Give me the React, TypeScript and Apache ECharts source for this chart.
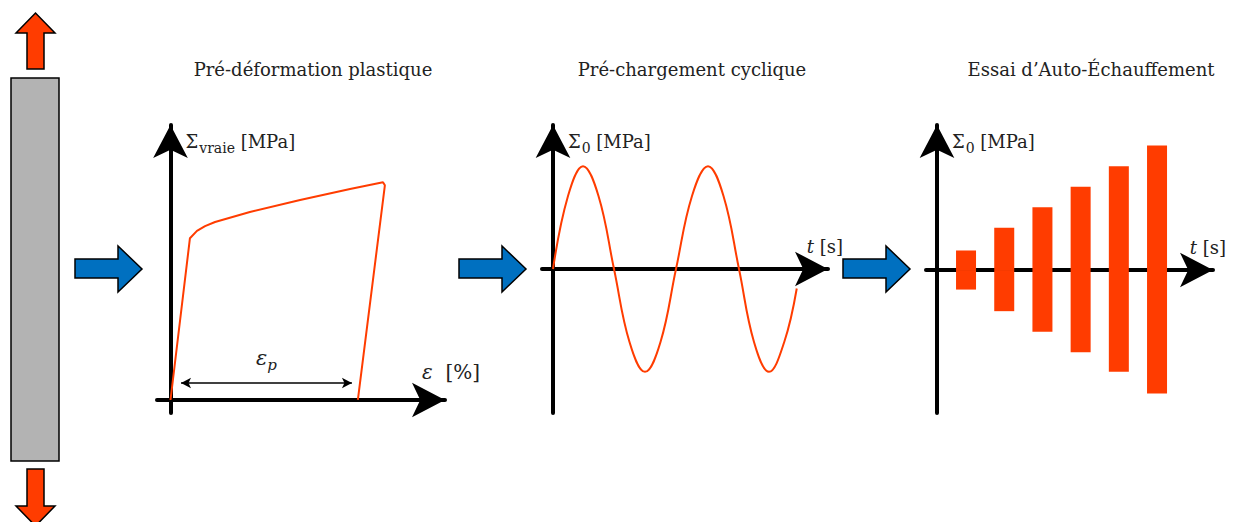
import React, { useEffect, useRef } from "react";
import * as echarts from "echarts";

// Panel 1: true stress-strain curve (strain %, stress MPa)
const CURVE_STRAIN = [0, 0.72, 0.98, 1.28, 1.65, 2.94, 4.8, 6.65, 7.87, 7.94, 6.94];
const CURVE_STRESS = [0, 309, 323, 332, 340, 359, 382, 403, 416, 410, 0];
// plastic pre-strain arrow (start / end strain, height)
const EP_FROM = 0.39;
const EP_TO = 6.72;
const EP_LEVEL = 32.5;

// Panel 2: cyclic pre-loading (time s, stress MPa)
const SINE_T = [0, 0.12, 0.24, 0.364, 0.488, 0.612, 0.736, 0.86, 0.984, 1.112, 1.24, 1.364, 1.488, 1.608, 1.728, 1.85, 1.95];
const SINE_S = [0, 71, 100, 71, 0, -71, -100, -71, 0, 71, 100, 71, 0, -71, -100, -71, -19];

// Panel 3: self-heating test blocks (time s, amplitude MPa)
const BLOCK_T = [0.76, 1.76, 2.76, 3.76, 4.76, 5.76];
const BLOCK_UP = [19, 41, 61, 81, 101, 121];
const BLOCK_DOWN = [-19, -40, -60, -80, -99, -120];

const TITLES = ["Pré-déformation plastique", "Pré-chargement cyclique", "Essai d’Auto-Échauffement"];

const RED = "#ff3c00";
const BLUE = "#0070c0";
const FONT = "DejaVu Serif";
const INK = "#222";

function axis(min: number, max: number, extra: any = {}) {
  return {
    type: "value",
    min,
    max,
    axisLine: {
      show: true,
      onZero: true,
      symbol: ["none", "arrow"],
      symbolSize: [26, 33],
      lineStyle: { color: "#000", width: 4 },
    },
    axisTick: { show: false },
    axisLabel: { show: false },
    splitLine: { show: false },
    ...extra,
  };
}

const richBase = {
  s: { fontFamily: FONT, fontSize: 18, color: INK, lineHeight: 20, verticalAlign: "top" },
  sub: { fontFamily: FONT, fontSize: 14, color: INK, lineHeight: 14, padding: [9, 0, 0, 1], verticalAlign: "top" },
};

function yName(label: string) {
  return {
    name: label,
    nameLocation: "end",
    nameGap: 0,
    nameTextStyle: {
      align: "left",
      verticalAlign: "top",
      padding: [7, 0, 0, 15],
      rich: richBase,
    },
  };
}

function xName(label: string, gap: number, bottom: number, size = 18) {
  return {
    name: label,
    nameLocation: "end",
    nameGap: gap,
    nameTextStyle: {
      align: "right",
      verticalAlign: "bottom",
      padding: [0, 0, bottom, 0],
      rich: {
        s: { fontFamily: FONT, fontSize: size, color: INK },
        i: { fontFamily: FONT, fontSize: size, fontStyle: "italic", color: INK },
      },
    },
  };
}

function blueArrow(dx: number) {
  return {
    type: "polygon",
    shape: {
      points: [
        [75 + dx, 259],
        [118 + dx, 259],
        [118 + dx, 246],
        [142 + dx, 269],
        [118 + dx, 292],
        [118 + dx, 278],
        [75 + dx, 278],
      ],
    },
    style: { fill: BLUE, stroke: "#000", lineWidth: 1.5 },
  };
}

export default function App() {
  const ref = useRef<HTMLDivElement>(null);
  useEffect(() => {
    if (!ref.current) return;
    const chart = echarts.init(ref.current, null, { renderer: "svg" });
    const option: any = {
      animation: false,
      grid: [
        { left: 157, top: 125, width: 288, height: 288 },
        { left: 542, top: 125, width: 286, height: 288 },
        { left: 926, top: 125, width: 287, height: 288 },
      ],
      xAxis: [
        axis(-0.5, 10.167, { gridIndex: 0, ...xName("{i|ε}{s|  [%]}", 35, 18, 20) }),
        axis(-0.088, 2.2, { gridIndex: 1, ...xName("{i|t}{s| [s]}", 15, 14) }),
        axis(-0.288, 7.225, { gridIndex: 2, ...xName("{i|t}{s| [s]}", 13, 14) }),
      ],
      yAxis: [
        axis(-24.83, 525.2, { gridIndex: 0, ...yName("{s|Σ}{sub|vraie}{s| [MPa]}") }),
        axis(-140, 140, { gridIndex: 1, ...yName("{s|Σ}{sub|0}{s| [MPa]}") }),
        axis(-139, 141, { gridIndex: 2, ...yName("{s|Σ}{sub|0}{s| [MPa]}") }),
      ],
      series: [
        {
          type: "line",
          xAxisIndex: 0,
          yAxisIndex: 0,
          data: CURVE_STRAIN.map((x, i) => [x, CURVE_STRESS[i]]),
          showSymbol: false,
          symbol: "none",
          lineStyle: { color: RED, width: 2 },
          markLine: {
            silent: true,
            symbol: ["arrow", "arrow"],
            symbolSize: [8, 10],
            lineStyle: { color: "#000", width: 1.5, type: "solid" },
            label: {
              show: true,
              position: "middle",
              distance: 13,
              formatter: "{e|ε}{p|p}",
              rich: {
                e: { fontFamily: FONT, fontSize: 21, fontStyle: "italic", color: INK, lineHeight: 22, verticalAlign: "top" },
                p: { fontFamily: FONT, fontSize: 15, fontStyle: "italic", color: INK, lineHeight: 14, padding: [10, 0, 0, 0], verticalAlign: "top" },
              },
            },
            data: [[{ coord: [EP_FROM, EP_LEVEL] }, { coord: [EP_TO, EP_LEVEL] }]],
          },
        },
        {
          type: "line",
          xAxisIndex: 1,
          yAxisIndex: 1,
          data: SINE_T.map((t, i) => [t, SINE_S[i]]),
          smooth: 0.4,
          showSymbol: false,
          symbol: "none",
          lineStyle: { color: RED, width: 2 },
        },
        {
          type: "bar",
          xAxisIndex: 2,
          yAxisIndex: 2,
          stack: "blk",
          barWidth: 20,
          data: BLOCK_T.map((t, i) => [t, BLOCK_UP[i]]),
          itemStyle: { color: RED },
        },
        {
          type: "bar",
          xAxisIndex: 2,
          yAxisIndex: 2,
          stack: "blk",
          barWidth: 20,
          data: BLOCK_T.map((t, i) => [t, BLOCK_DOWN[i]]),
          itemStyle: { color: RED },
        },
      ],
      graphic: [
        {
          type: "rect",
          shape: { x: 11, y: 78, width: 48, height: 383 },
          style: { fill: "#b3b3b3", stroke: "#000", lineWidth: 1.5 },
        },
        {
          type: "polygon",
          shape: { points: [[27, 69], [27, 33], [16, 33], [35.5, 13], [55, 33], [44, 33], [44, 69]] },
          style: { fill: RED, stroke: "#000", lineWidth: 1.5 },
        },
        {
          type: "polygon",
          shape: { points: [[27, 469], [44, 469], [44, 506], [55, 506], [35.5, 526], [16, 506], [27, 506]] },
          style: { fill: RED, stroke: "#000", lineWidth: 1.5 },
        },
        blueArrow(0),
        blueArrow(384),
        blueArrow(768),
        ...TITLES.map((t, i) => ({
          type: "text",
          x: [313, 692, 1091][i],
          y: 69,
          style: {
            text: t,
            fontFamily: FONT,
            fontSize: 18,
            fill: INK,
            align: "center",
            verticalAlign: "middle",
          },
        })),
      ],
    };
    chart.setOption(option);
    return () => chart.dispose();
  }, []);
  return <div ref={ref} style={{ position: "absolute", left: 0, top: 0, width: 1237, height: 522 }} />;
}
